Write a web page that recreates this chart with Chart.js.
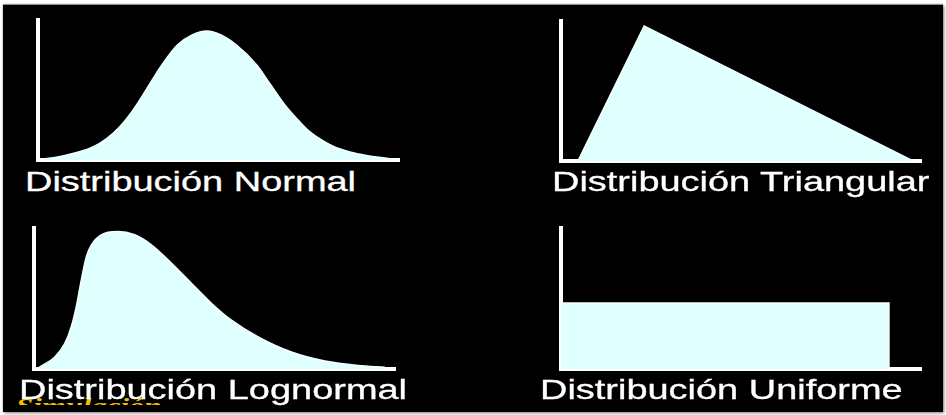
<!DOCTYPE html>
<html>
<head>
<meta charset="utf-8">
<script src="https://cdn.jsdelivr.net/npm/chart.js"></script>
<style>
  body { margin: 0; background: #fff; width: 946px; height: 415px; overflow: hidden; }
  #board { position: absolute; left: 3px; top: 5px; width: 940px; height: 407px; background: #000;
           box-shadow: 1px 1px 3px #777, 0 -1px 1px #999; }
  canvas { position: absolute; }
  .lbl { position: absolute; color: #fff; font-family: "Liberation Sans", Arial, sans-serif;
         font-size: 28px; line-height: 28px; white-space: nowrap; transform-origin: 0 0;
         transform: scaleX(1.355); z-index: 3; -webkit-text-stroke: 0.3px #fff; }
  #ghost { position: absolute; left: 12px; top: 395px; width: 150px; height: 10px; overflow: hidden; z-index: 2; }
  #ghost span { position: absolute; left: 4px; top: 0; color: #f2c200; font-family: "Liberation Serif", serif;
                font-weight: bold; font-style: italic; font-size: 22px; line-height: 22px;
                transform-origin: 0 0; transform: scaleX(1.4); white-space: nowrap; }
</style>
</head>
<body>
<div id="board"></div>
<canvas id="c1" style="left:32px;top:14px" width="373" height="152"></canvas>
<canvas id="c2" style="left:555px;top:15px" width="372" height="152"></canvas>
<canvas id="c3" style="left:28px;top:222px" width="373" height="153"></canvas>
<canvas id="c4" style="left:555px;top:222px" width="372" height="153"></canvas>
<div id="ghost"><span>Simulación</span></div>
<div class="lbl" style="left:25px;top:168px">Distribución Normal</div>
<div class="lbl" style="left:552px;top:168px">Distribución Triangular</div>
<div class="lbl" style="left:19px;top:376px">Distribución Lognormal</div>
<div class="lbl" style="left:540px;top:376px">Distribución Uniforme</div>
<script>
// values in axis units: x 0..100 along the horizontal axis, y 0..100 up the vertical axis
const normalX = [0.6, 4.7, 10.2, 14.4, 17.2, 20.8, 24.1, 27.3, 31.0, 34.3, 38.6, 42.7, 46.7, 50.7, 55.0, 60.6, 64.3, 68.4, 71.7, 74.9, 78.1, 81.7, 86.4, 91.0, 96.1, 99.4];
const normalY = [0.6, 1.8, 5.0, 8.5, 12.1, 19.0, 28.0, 39.3, 54.5, 67.9, 82.1, 89.3, 92.1, 89.3, 82.1, 67.9, 54.3, 39.3, 29.5, 21.0, 15.0, 9.8, 5.7, 3.2, 1.4, 0.4];

const triX = [4.7, 23.1, 97.8];
const triY = [0, 96.4, 0];

const lognX = [1.5, 5.7, 8.5, 10.3, 11.7, 13.1, 14.5, 15.9, 18.6, 23.2, 27.9, 32.5, 38.1, 43.6, 49.2, 54.7, 62.1, 71.3, 80.6, 89.8, 97.2];
const lognY = [1.3, 8.4, 18.0, 29.8, 44.1, 63.1, 79.7, 88.1, 95.2, 97.6, 95.2, 88.1, 75.0, 60.8, 46.5, 34.6, 22.7, 12.0, 5.6, 2.5, 1.3];

const uniX = [0, 91.1, 91.1];
const uniY = [46.8, 46.8, 0];

const fillColor = '#e0ffff';

function axis() {
  return {
    type: 'linear', min: 0, max: 100,
    ticks: { display: false },
    grid: { display: false, drawTicks: false },
    border: { display: true, color: '#ffffff', width: 4 }
  };
}

function makeChart(id, xs, ys, smooth) {
  return new Chart(document.getElementById(id), {
    type: 'line',
    data: {
      datasets: [{
        data: xs.map((x, i) => ({ x: x, y: ys[i] })),
        fill: 'origin',
        backgroundColor: fillColor,
        borderColor: '#f4ffff',
        borderWidth: 1.5,
        pointRadius: 0,
        tension: 0,
        cubicInterpolationMode: smooth ? 'monotone' : 'default'
      }]
    },
    options: {
      responsive: false,
      animation: false,
      layout: { padding: 6 },
      plugins: { legend: { display: false }, tooltip: { enabled: false } },
      scales: { x: axis(), y: axis() }
    }
  });
}

makeChart('c1', normalX, normalY, true);
makeChart('c2', triX, triY, false);
makeChart('c3', lognX, lognY, true);
makeChart('c4', uniX, uniY, false);
</script>
</body>
</html>
